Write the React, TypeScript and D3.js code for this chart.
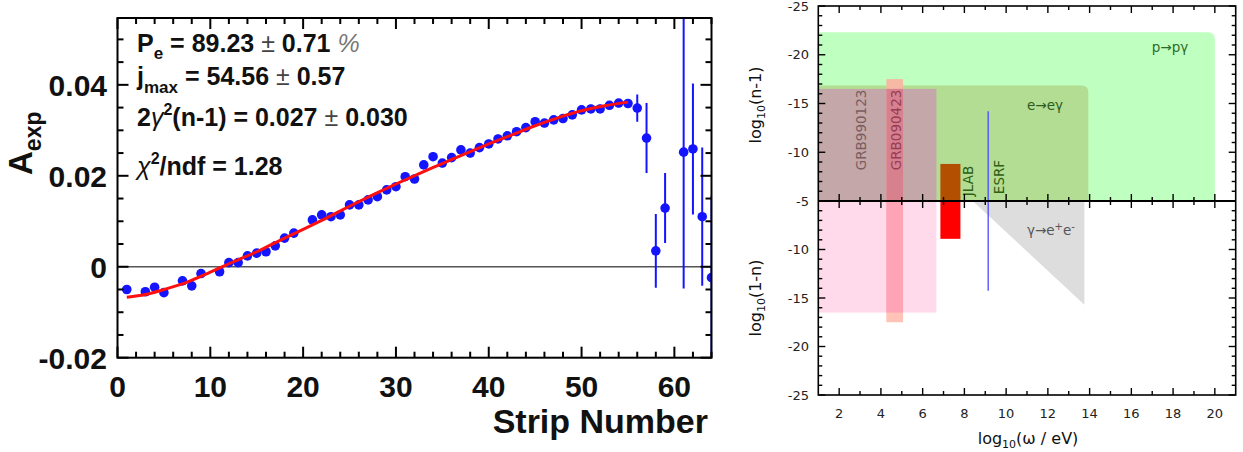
import React from 'react';
import * as d3 from 'd3';

// ---------- Left panel data (A_exp vs strip number) ----------
const stripNumbers = [1, 3, 4, 5, 7, 8, 9, 11, 12, 13, 14, 15, 16, 17, 18, 19, 21, 22, 23, 24, 25, 26, 27, 28, 29, 30, 31, 32, 33, 34, 35, 36, 37, 38, 39, 40, 41, 42, 43, 44, 45, 46, 47, 48, 49, 50, 51, 52, 53, 54, 55];
const asymmetry = [-0.0050, -0.0055, -0.0045, -0.0057, -0.0031, -0.0042, -0.0015, -0.0011, 0.0009, 0.0009, 0.0024, 0.0030, 0.0033, 0.0046, 0.0063, 0.0074, 0.0103, 0.0114, 0.0110, 0.0114, 0.0136, 0.0136, 0.0147, 0.0154, 0.0169, 0.0176, 0.0198, 0.0193, 0.0224, 0.0242, 0.0228, 0.0240, 0.0257, 0.0250, 0.0262, 0.0270, 0.0281, 0.0288, 0.0297, 0.0306, 0.0319, 0.0316, 0.0323, 0.0326, 0.0334, 0.0345, 0.0347, 0.0347, 0.0355, 0.0360, 0.0359];
const mainError = 0.0009;

const tailStrips = [56, 57, 58, 59, 61, 62, 63, 64];
const tailValues = [0.0349, 0.0283, 0.0035, 0.0129, 0.0252, 0.0259, 0.0110, -0.0024];
const tailErrors = [0.0030, 0.0077, 0.0081, 0.0077, 0.0300, 0.0144, 0.0152, 0.0180];

const fitStrips = [1, 3, 5, 7.5, 10, 12.5, 15, 17.5, 20, 22.5, 25, 27.5, 30, 32.5, 35, 37.5, 40, 42.5, 45, 47.5, 50, 52.5, 55];
const fitValues = [-0.0067, -0.0061, -0.0050, -0.0034, -0.0012, 0.0011, 0.0033, 0.0058, 0.0082, 0.0107, 0.0133, 0.0158, 0.0182, 0.0205, 0.0227, 0.0249, 0.0270, 0.0290, 0.0310, 0.0328, 0.0343, 0.0354, 0.0362];

const leftXTicks = [0, 10, 20, 30, 40, 50, 60];
const leftXTickLabels = ['0', '10', '20', '30', '40', '50', '60'];
const leftYTicks = [-0.02, 0, 0.02, 0.04];
const leftYTickLabels = ['-0.02', '0', '0.02', '0.04'];

// ---------- Right panel data (refractive index limits) ----------
const limitNames = ['p→pγ', 'e→eγ', 'GRB990123', 'GRB090423', 'JLAB'];
const limitXFrom = [1, 1, 1, 4.26, 6.85];
const limitXTo = [20.0, 13.94, 6.66, 5.06, 7.81];
const limitUpper = [-22.3, -16.85, -16.5, -17.5, -8.8]; // log10(n-1)
const limitLower = [NaN, NaN, -16.5, -17.5, -8.9]; // log10(1-n)

const esrfX = 9.14;
const esrfUpper = -14.2;
const esrfLower = -14.25;

const pairX = [8.4, 13.75, 13.75];
const pairY = [-5, -5, -15.7];

const rightXTicks = [2, 4, 6, 8, 10, 12, 14, 16, 18, 20];
const rightTopYTicks = [-25, -20, -15, -10, -5];
const rightBottomYTicks = [-10, -15, -20, -25];

const W = 1243;
const H = 452;

export default function App() {
  // left scales
  const xL = d3.scaleLinear().domain([0, 64]).range([117.5, 711.5]);
  const yL = d3.scaleLinear().domain([-0.02, 0.0547]).range([357.7, 18]);
  const [lx0, lx1] = xL.range();
  const [ly0, ly1] = yL.range();

  const fitLine = d3
    .line<number>()
    .x((_, i) => xL(fitStrips[i]))
    .y((d) => yL(d))
    .curve(d3.curveMonotoneX)(fitValues) as string;

  const xMinorL = d3.range(0, 65, 2);
  const yMinorL = d3.range(-4, 11).map((i) => i * 0.005);

  // right scales
  const xR = d3.scaleLinear().domain([1, 21]).range([818.3, 1235.7]);
  const yTop = d3.scaleLinear().domain([-25, -5]).range([6, 201]);
  const yBot = d3.scaleLinear().domain([-5, -25]).range([201, 395]);
  const [rx0, rx1] = xR.range();
  const rTop = yTop(-25);
  const rMid = yTop(-5);
  const rBot = yBot(-25);

  const roundedTop = (i: number, r: number) => {
    const x0 = xR(limitXFrom[i]);
    const x1 = xR(limitXTo[i]);
    const yt = yTop(limitUpper[i]);
    return `M${x0},${rMid} L${x0},${yt} L${x1 - r},${yt} Q${x1},${yt} ${x1},${yt + r} L${x1},${rMid} Z`;
  };

  const rectTop = (i: number) => ({
    x: xR(limitXFrom[i]),
    y: yTop(limitUpper[i]),
    w: xR(limitXTo[i]) - xR(limitXFrom[i]),
    h: rMid - yTop(limitUpper[i]),
  });
  const rectBot = (i: number) => ({
    x: xR(limitXFrom[i]),
    y: rMid,
    w: xR(limitXTo[i]) - xR(limitXFrom[i]),
    h: yBot(limitLower[i]) - rMid,
  });

  const grbA = 2;
  const grbB = 3;
  const ovTopY = yTop(Math.max(limitUpper[grbA], limitUpper[grbB]));
  const ovBotY = yBot(Math.max(limitLower[grbA], limitLower[grbB]));

  const pairPath =
    d3.line<number>().x((_, i) => xR(pairX[i])).y((d) => yBot(d))(pairY) + 'Z';

  const colors = {
    pgamma: '#bfffbf',
    egamma: '#b3dd93',
    grb1Top: '#c4a7a8',
    grb1Bot: '#ffdaea',
    grb2Top: '#f5b9a4',
    grb2TopOverlap: '#d7818f',
    grb2Bot: '#ffc3b8',
    grb2BotOverlap: '#ffa4b7',
    jlabTop: '#b34f00',
    jlabBot: '#ff0000',
    pair: '#dddddd',
    esrf: '#4a4aff',
  };

  const rFont = 'DejaVu Sans, Verdana, sans-serif';
  const lFont = 'Liberation Sans, Arial, Helvetica, sans-serif';
  const blue = '#1414ff';

  const a = rectTop(grbB);
  const b = rectBot(grbB);
  const jt = rectTop(4);
  const jb = rectBot(4);
  const g1t = rectTop(grbA);
  const g1b = rectBot(grbA);

  return (
    <svg
      width={W}
      height={H}
      style={{ position: 'absolute', left: 0, top: 0, background: '#fff' }}
    >
      <defs>
        <clipPath id="leftClip">
          <rect x={lx0} y={ly1} width={lx1 - lx0} height={ly0 - ly1} />
        </clipPath>
      </defs>
      <rect x={0} y={0} width={W} height={H} fill="#fff" />

      {/* ================= LEFT PANEL ================= */}
      <line x1={lx0} x2={lx1} y1={yL(0)} y2={yL(0)} stroke="#555" strokeWidth={1.6} />
      <g clipPath="url(#leftClip)">
        {stripNumbers.map((s, i) => (
          <line
            key={'me' + s}
            x1={xL(s)}
            x2={xL(s)}
            y1={yL(asymmetry[i] - mainError)}
            y2={yL(asymmetry[i] + mainError)}
            stroke={blue}
            strokeWidth={2}
          />
        ))}
        {stripNumbers.map((s, i) => (
          <circle key={'m' + s} cx={xL(s)} cy={yL(asymmetry[i])} r={4.8} fill={blue} />
        ))}
        {tailStrips.map((s, i) => (
          <line
            key={'te' + s}
            x1={xL(s)}
            x2={xL(s)}
            y1={yL(tailValues[i] - tailErrors[i])}
            y2={yL(tailValues[i] + tailErrors[i])}
            stroke={blue}
            strokeWidth={2}
          />
        ))}
        {tailStrips.map((s, i) => (
          <circle key={'t' + s} cx={xL(s)} cy={yL(tailValues[i])} r={4.8} fill={blue} />
        ))}
        <path d={fitLine} fill="none" stroke="#ff1010" strokeWidth={3} />
      </g>

      {/* left frame and ticks */}
      <rect x={lx0} y={ly1} width={lx1 - lx0} height={ly0 - ly1} fill="none" stroke="#000" strokeWidth={2} />
      {xMinorL.map((t) => {
        const len = t % 10 === 0 ? 11 : 6;
        return (
          <g key={'xt' + t}>
            <line x1={xL(t)} x2={xL(t)} y1={ly0} y2={ly0 - len} stroke="#000" strokeWidth={2} />
            <line x1={xL(t)} x2={xL(t)} y1={ly1} y2={ly1 + len} stroke="#000" strokeWidth={2} />
          </g>
        );
      })}
      {yMinorL.map((t, i) => {
        const major = (i - 4 + 400) % 4 === 0;
        const len = major ? 11 : 6;
        return (
          <g key={'yt' + i}>
            <line x1={lx0} x2={lx0 + len} y1={yL(t)} y2={yL(t)} stroke="#000" strokeWidth={2} />
            <line x1={lx1} x2={lx1 - len} y1={yL(t)} y2={yL(t)} stroke="#000" strokeWidth={2} />
          </g>
        );
      })}
      {leftXTicks.map((t, i) => (
        <text
          key={'xl' + t}
          x={xL(t)}
          y={397}
          textAnchor="middle"
          fontFamily={lFont}
          fontWeight="bold"
          fontSize={30}
          fill="#111"
        >
          {leftXTickLabels[i]}
        </text>
      ))}
      {leftYTicks.map((t, i) => (
        <text
          key={'yl' + t}
          x={107}
          y={yL(t) + 11}
          textAnchor="end"
          fontFamily={lFont}
          fontWeight="bold"
          fontSize={30}
          fill="#111"
        >
          {leftYTickLabels[i]}
        </text>
      ))}
      <text
        transform="translate(32,175) rotate(-90)"
        fontFamily={lFont}
        fontWeight="bold"
        fontSize={33}
        fill="#111"
      >
        A<tspan dy={9} fontSize={23}>exp</tspan>
      </text>
      <text x={708} y={433} textAnchor="end" fontFamily={lFont} fontWeight="bold" fontSize={34} fill="#111">
        Strip Number
      </text>

      {/* fit results */}
      <g fontFamily={lFont} fontWeight="bold" fontSize={25} fill="#111">
        <text x={137} y={52}>
          P<tspan dy={7} fontSize={17}>e</tspan>
          <tspan dy={-7}>{' = 89.23 '}</tspan>
          <tspan fontWeight="normal" fill="#444">±</tspan>
          <tspan>{' 0.71 '}</tspan>
          <tspan fontWeight="normal" fill="#777" fontStyle="italic">%</tspan>
        </text>
        <text x={137} y={85}>
          j<tspan dy={8} fontSize={17}>max</tspan>
          <tspan dy={-8}>{' = 54.56 '}</tspan>
          <tspan fontWeight="normal" fill="#444">±</tspan>
          <tspan>{' 0.57'}</tspan>
        </text>
        <text x={137} y={126}>
          2<tspan fontWeight="normal" fontStyle="italic">γ</tspan>
          <tspan dy={-11} fontSize={16}>2</tspan>
          <tspan dy={11}>{'(n-1) = 0.027 '}</tspan>
          <tspan fontWeight="normal" fill="#444">±</tspan>
          <tspan>{' 0.030'}</tspan>
        </text>
        <text x={137} y={175}>
          <tspan fontWeight="normal" fontStyle="italic">χ</tspan>
          <tspan dy={-11} fontSize={16}>2</tspan>
          <tspan dy={11}>{'/ndf = 1.28'}</tspan>
        </text>
      </g>

      {/* ================= RIGHT PANEL ================= */}
      <path d={roundedTop(0, 7)} fill={colors.pgamma} />
      <path d={roundedTop(1, 7)} fill={colors.egamma} />
      <rect x={g1t.x} y={g1t.y} width={g1t.w} height={g1t.h} fill={colors.grb1Top} />
      <rect x={a.x} y={a.y} width={a.w} height={a.h} fill={colors.grb2Top} />
      <rect x={a.x} y={ovTopY} width={a.w} height={rMid - ovTopY} fill={colors.grb2TopOverlap} />
      <rect x={jt.x} y={jt.y} width={jt.w} height={jt.h} fill={colors.jlabTop} />

      <rect x={g1b.x} y={g1b.y} width={g1b.w} height={g1b.h} fill={colors.grb1Bot} />
      <rect x={b.x} y={b.y} width={b.w} height={b.h} fill={colors.grb2Bot} />
      <rect x={b.x} y={rMid} width={b.w} height={ovBotY - rMid} fill={colors.grb2BotOverlap} />
      <rect x={jb.x} y={jb.y} width={jb.w} height={jb.h} fill={colors.jlabBot} />
      <path d={pairPath} fill={colors.pair} />

      <line x1={xR(esrfX)} x2={xR(esrfX)} y1={yTop(esrfUpper)} y2={yBot(esrfLower)} stroke={colors.esrf} strokeWidth={1.3} />

      <g fontFamily={rFont} fontSize={13.5}>
        <text transform={`translate(866,130) rotate(-90)`} textAnchor="middle" fill="#7a5d5f">
          {limitNames[2]}
        </text>
        <text transform={`translate(901,130) rotate(-90)`} textAnchor="middle" fill="#9a3c55">
          {limitNames[3]}
        </text>
        <text transform={`translate(973,181) rotate(-90)`} textAnchor="middle" fill="#2f5e14">
          {limitNames[4]}
        </text>
        <text transform={`translate(1004,177) rotate(-90)`} textAnchor="middle" fill="#2f5e14">
          ESRF
        </text>
        <text x={1170} y={52} textAnchor="middle" fill="#2c6b2c">
          {limitNames[0]}
        </text>
        <text x={1045} y={110} textAnchor="middle" fill="#2e5a1c">
          {limitNames[1]}
        </text>
        <text x={1027} y={235} fill="#555">
          γ→e<tspan dy={-5} fontSize={10}>+</tspan>
          <tspan dy={5}>e</tspan>
          <tspan dy={-5} fontSize={10}>-</tspan>
        </text>
      </g>

      <rect x={rx0} y={rTop} width={rx1 - rx0} height={rBot - rTop} fill="none" stroke="#000" strokeWidth={1.6} />
      <line x1={rx0} x2={rx1} y1={rMid} y2={rMid} stroke="#000" strokeWidth={2} />

      {d3.range(2, 21).map((t) => {
        const len = t % 2 === 0 ? 7 : 4;
        const x = xR(t);
        return (
          <g key={'rxt' + t} stroke="#000" strokeWidth={1.4}>
            <line x1={x} x2={x} y1={rTop} y2={rTop + len} />
            <line x1={x} x2={x} y1={rBot} y2={rBot - len} />
            <line x1={x} x2={x} y1={rMid - len} y2={rMid + len} />
          </g>
        );
      })}
      {d3.range(-25, -4).map((t) => {
        const len = t % 5 === 0 ? 7 : 4;
        const y = yTop(t);
        return (
          <g key={'ryt' + t} stroke="#000" strokeWidth={1.4}>
            <line x1={rx0} x2={rx0 + len} y1={y} y2={y} />
            <line x1={rx1} x2={rx1 - len} y1={y} y2={y} />
          </g>
        );
      })}
      {d3.range(-25, -4).map((t) => {
        const len = t % 5 === 0 ? 7 : 4;
        const y = yBot(t);
        return (
          <g key={'ryb' + t} stroke="#000" strokeWidth={1.4}>
            <line x1={rx0} x2={rx0 + len} y1={y} y2={y} />
            <line x1={rx1} x2={rx1 - len} y1={y} y2={y} />
          </g>
        );
      })}

      <g fontFamily={rFont} fontSize={13} fill="#222">
        {rightXTicks.map((t) => (
          <text key={'rxl' + t} x={xR(t)} y={418} textAnchor="middle">
            {t}
          </text>
        ))}
        {rightTopYTicks.map((t) => (
          <text key={'rtl' + t} x={809} y={yTop(t) + 4.5} textAnchor="end">
            {t}
          </text>
        ))}
        {rightBottomYTicks.map((t) => (
          <text key={'rbl' + t} x={809} y={yBot(t) + 4.5} textAnchor="end">
            {t}
          </text>
        ))}
      </g>
      <g fontFamily={rFont} fontSize={16} fill="#111">
        <text transform="translate(761,105) rotate(-90)" textAnchor="middle">
          log<tspan dy={4} fontSize={11}>10</tspan>
          <tspan dy={-4}>(n-1)</tspan>
        </text>
        <text transform="translate(761,298) rotate(-90)" textAnchor="middle">
          log<tspan dy={4} fontSize={11}>10</tspan>
          <tspan dy={-4}>(1-n)</tspan>
        </text>
        <text x={1028} y={444} textAnchor="middle">
          log<tspan dy={4} fontSize={11}>10</tspan>
          <tspan dy={-4}>(ω / eV)</tspan>
        </text>
      </g>
    </svg>
  );
}
